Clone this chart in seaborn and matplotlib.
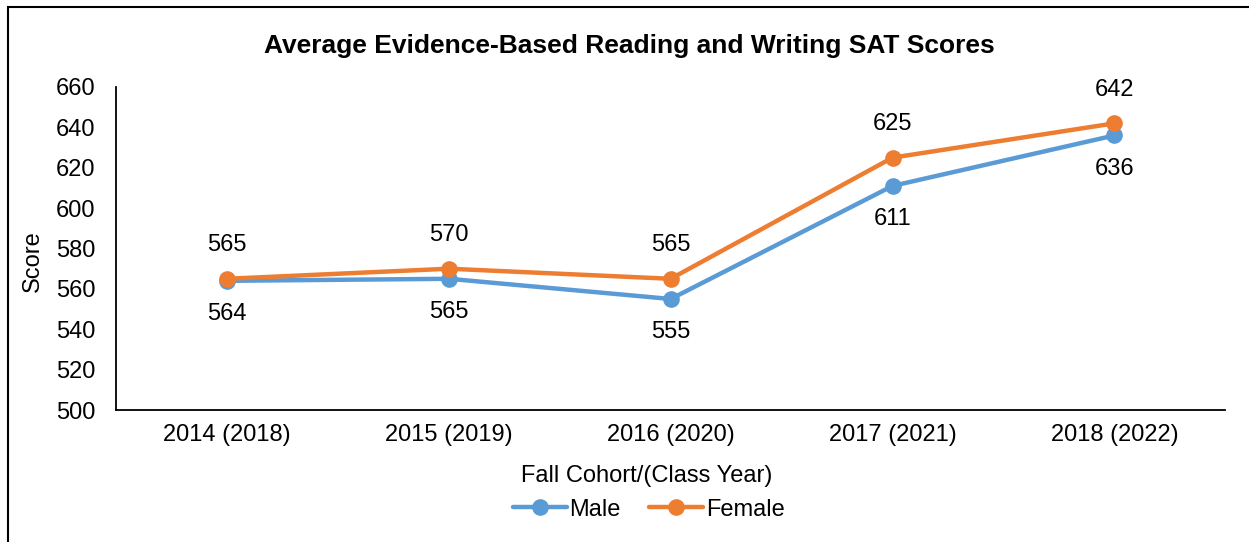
import matplotlib
matplotlib.use("Agg")
import matplotlib.pyplot as plt
import matplotlib.patches as mpatches
import pandas as pd
import seaborn as sns

cohorts = ["2014 (2018)", "2015 (2019)", "2016 (2020)", "2017 (2021)", "2018 (2022)"]
male = [564, 565, 555, 611, 636]
female = [565, 570, 565, 625, 642]

sns.set_theme(style="white")
plt.rcParams["font.family"] = ["Liberation Sans", "DejaVu Sans"]
plt.rcParams["text.color"] = "black"

df = pd.DataFrame({
    "cohort": cohorts * 2,
    "score": male + female,
    "gender": ["Male"] * len(cohorts) + ["Female"] * len(cohorts),
})

colors = {"Male": "#5B9BD5", "Female": "#ED7D31"}
fs = 17

fig = plt.figure(figsize=(12.49, 5.42), dpi=100)
ax = fig.add_axes([0.093, 0.2435, 0.888, 0.596])

sns.lineplot(data=df, x="cohort", y="score", hue="gender", palette=colors,
             marker="o", markersize=12, linewidth=3.2, markeredgewidth=0,
             sort=False, ax=ax)

# data labels: female above, male below
for i, (m, f) in enumerate(zip(male, female)):
    ax.annotate(str(f), (i, f), xytext=(0, 24), textcoords="offset points",
                ha="center", va="center", fontsize=fs, color="black")
    ax.annotate(str(m), (i, m), xytext=(0, -24), textcoords="offset points",
                ha="center", va="center", fontsize=fs, color="black")

ax.set_ylim(500, 660)
ax.set_yticks(range(500, 661, 20))
ax.set_xlim(-0.5, len(cohorts) - 0.5)
ax.tick_params(axis="both", labelsize=fs, colors="black", length=0)
ax.tick_params(axis="y", pad=15)
ax.tick_params(axis="x", pad=10)
ax.set_ylabel("Score", fontsize=fs, color="black", va="center")
ax.yaxis.set_label_coords(-0.075, 0.46)
ax.set_xlabel("Fall Cohort/(Class Year)", fontsize=fs, color="black", va="center")
ax.xaxis.set_label_coords(0.478, -0.204)

for side in ["top", "right"]:
    ax.spines[side].set_visible(False)
for side in ["left", "bottom"]:
    ax.spines[side].set_color("black")
    ax.spines[side].set_linewidth(1.3)

handles, labels = ax.get_legend_handles_labels()
leg = ax.legend(handles, labels, loc="center", bbox_to_anchor=(0.48, -0.308),
                ncol=2, frameon=False, fontsize=fs, handlelength=2.3,
                handletextpad=0.1, columnspacing=1.2, borderpad=0)
for t in leg.get_texts():
    t.set_color("black")

fig.text(0.5036, 0.915, "Average Evidence-Based Reading and Writing SAT Scores",
         ha="center", va="center", fontsize=19, fontweight="bold", color="black")

# outer border (clipped at right/bottom like the source image)
fig.patches.append(mpatches.Rectangle((8 / 1249, -0.05), 1.1, 1 - 7 / 542 + 0.05,
                                      transform=fig.transFigure, fill=False,
                                      edgecolor="black", linewidth=1.5))

fig.savefig("out.png", dpi=100)
